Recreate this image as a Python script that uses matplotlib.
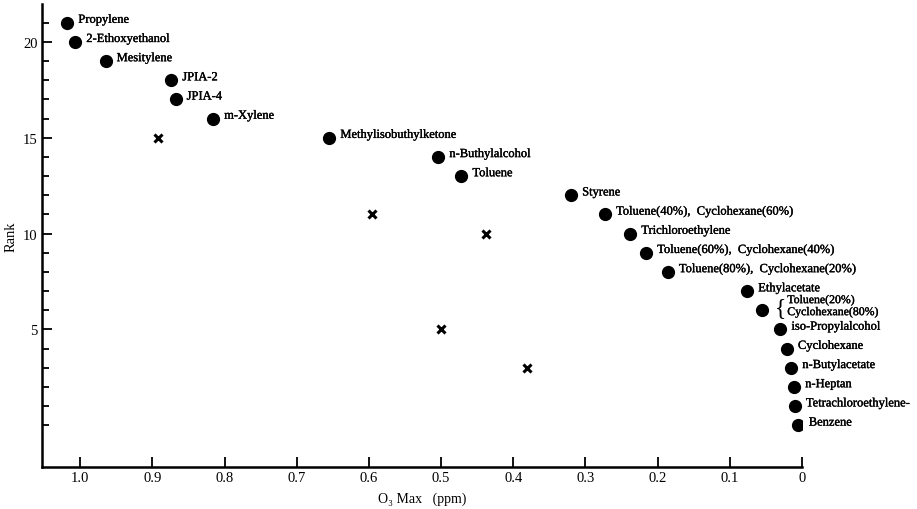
import matplotlib
matplotlib.use('Agg')
import matplotlib.pyplot as plt
import matplotlib.patheffects as pe
from matplotlib.ticker import FixedLocator

plt.rcParams['font.family'] = ['Liberation Serif', 'DejaVu Serif']

# ozone maximum (ppm) per solvent, ordered by rank
compounds = ['Propylene', '2-Ethoxyethanol', 'Mesitylene', 'JPIA-2', 'JPIA-4',
             'm-Xylene', 'Methylisobuthylketone', 'n-Buthylalcohol', 'Toluene',
             'Styrene', 'Toluene(40%),  Cyclohexane(60%)', 'Trichloroethylene',
             'Toluene(60%),  Cyclohexane(40%)', 'Toluene(80%),  Cyclohexane(20%)',
             'Ethylacetate', 'Toluene(20%)\nCyclohexane(80%)', 'iso-Propylalcohol',
             'Cyclohexane', 'n-Butylacetate', 'n-Heptan', 'Tetrachloroethylene-',
             'Benzene']
o3_max = [1.018, 1.007, 0.965, 0.874, 0.868, 0.816, 0.655, 0.504, 0.472,
          0.320, 0.273, 0.238, 0.216, 0.186, 0.076, 0.055, 0.030, 0.021,
          0.015, 0.011, 0.010, 0.006]
rank = list(range(21, -1, -1))

# unlabeled crosses
cross_o3 = [0.892, 0.596, 0.438, 0.500, 0.381]
cross_rank = [15, 11, 10, 5, 3]

xticks = [0, 0.1, 0.2, 0.3, 0.4, 0.5, 0.6, 0.7, 0.8, 0.9, 1.0]
xtick_labels = ['0', '0.1', '0.2', '0.3', '0.4', '0.5', '0.6', '0.7', '0.8', '0.9', '1.0']
yticks = [5, 10, 15, 20]

ink = [pe.withStroke(linewidth=0.25, foreground='black')]

fig = plt.figure(figsize=(9.17, 5.10), dpi=100)
ax = fig.add_axes([42 / 917, 1 - 468 / 510, (802 - 42) / 917, (468 - 5) / 510])

ax.plot(o3_max, rank, 'o', color='black', ms=8.5)
ax.plot(cross_o3, cross_rank, 'x', color='black', ms=5.5, mew=2.2)

for name, x, y in zip(compounds, o3_max, rank):
    if '\n' in name:
        # two-line mixture label grouped by a brace
        ax.annotate('{', (x, y), xytext=(9, 2), textcoords='offset points',
                    fontsize=17, va='center', ha='left', color='black')
        ax.annotate(name, (x, y), xytext=(18, 3), textcoords='offset points',
                    fontsize=8.5, va='center', ha='left', linespacing=1.0,
                    path_effects=ink)
    else:
        ax.annotate(name, (x, y), xytext=(8, 2), textcoords='offset points',
                    fontsize=9, va='center', ha='left', path_effects=ink)

ax.set_xlim(1.053, 0)
ax.set_ylim(-2.17, 21.97)
ax.set_xticks(xticks)
ax.set_xticklabels(xtick_labels)
ax.set_yticks(yticks)
ax.yaxis.set_minor_locator(FixedLocator(range(0, 22)))

ax.tick_params(axis='both', which='major', direction='in', length=7, width=1.3,
               labelsize=10.5, pad=3)
ax.tick_params(axis='y', which='minor', direction='in', length=5, width=1.3)

for side in ['top', 'right']:
    ax.spines[side].set_visible(False)
for side in ['left', 'bottom']:
    ax.spines[side].set_linewidth(1.8)

ax.set_xlabel('O₃ Max   (ppm)', fontsize=10, labelpad=5)
ax.set_ylabel('Rank', fontsize=10.5, labelpad=4)

fig.savefig('out.png', dpi=100)
